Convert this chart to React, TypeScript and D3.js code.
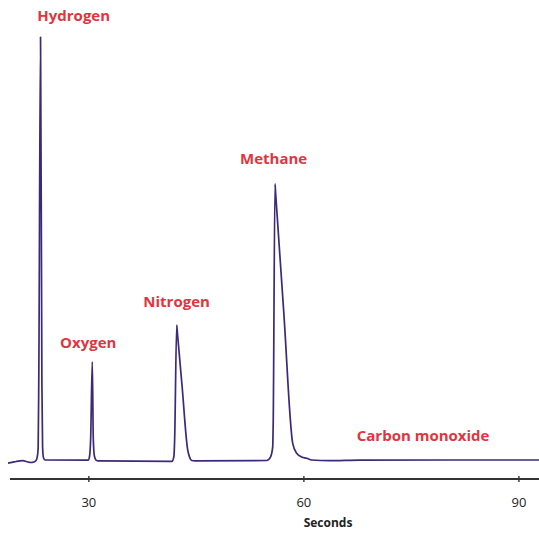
import React from "react";
import * as d3 from "d3";

// Chromatogram trace: retention time (s) and detector signal (arbitrary units, H2 peak = 100)
const times = [
  18.72, 19.3, 19.84, 20.4, 20.81, 21.37, 21.93, 22.35, 22.63, 22.8, 22.93, 23.02, 23.26, 23.45, 23.55, 23.68, 23.9,
  29.9, 30.1, 30.25, 30.48, 30.62, 30.78, 31.0, 31.3,
  41.6, 41.87, 41.97, 42.26, 42.33, 43.0, 43.79, 44.05, 44.35, 44.8,
  54.81, 55.34, 55.65, 55.72, 55.97, 56.05, 57.2, 58.44, 59.0, 59.69, 60.39, 61.09, 63.6, 67.8, 92.8,
];
const signal = [
  -0.6, -0.45, -0.24, -0.08, -0.05, -0.3, -0.47, -0.35, 0.0, 0.8, 3, 20, 100, 18, 3, 0.6, 0.12,
  0.1, 1, 5, 23.3, 5, 1, 0.1, -0.1,
  -0.2, 1, 5, 32, 30.6, 17.7, 2.5, 0.8, 0.0, -0.1,
  0.0, 0.8, 3.2, 9, 65.3, 63.3, 34.8, 4.06, 1.7, 0.83, 0.52, 0.12, -0.05, 0.1, 0.12,
];

const compounds = ["Hydrogen", "Oxygen", "Nitrogen", "Methane", "Carbon monoxide"];
// label anchors in data coordinates (seconds, signal)
const labelTimes = [22.81, 25.98, 37.6, 51.09, 67.37];
const labelSignals = [103.8, 26.5, 36.2, 70.1, 4.7];

const tickValues = [30, 60, 90];
const xAxisTitle = "Seconds";

const W = 539;
const H = 536;

export default function App() {
  const x = d3.scaleLinear().domain([19, 92.8]).range([10, 539]);
  const y = d3.scaleLinear().domain([0, 100]).range([460.5, 37]);
  const axisY = 479;

  const pts: [number, number][] = times.map((t, i) => [t, signal[i]]);
  const line = d3
    .line<[number, number]>()
    .x((d) => x(d[0]))
    .y((d) => y(d[1]))
    .curve(d3.curveMonotoneX);

  const red = "#e0353f";
  const font = "'Open Sans', sans-serif";

  return (
    <svg
      width={W}
      height={H}
      style={{ position: "absolute", left: 0, top: 0, background: "#fff" }}
    >
      <path d={line(pts) || ""} fill="none" stroke="#3b2a78" strokeWidth={1.7} strokeLinejoin="round" />
      <line x1={x.range()[0]} x2={x.range()[1]} y1={axisY} y2={axisY} stroke="#333" strokeWidth={2.2} />
      {tickValues.map((v) => (
        <g key={v}>
          <line x1={x(v)} x2={x(v)} y1={axisY - 3} y2={axisY + 3} stroke="#333" strokeWidth={1.4} />
          <text
            x={x(v)}
            y={axisY + 28}
            textAnchor="middle"
            fontFamily={font}
            fontSize={13}
            fill="#222"
          >
            {v}
          </text>
        </g>
      ))}
      <text x={328} y={527} textAnchor="middle" fontFamily={font} fontSize={12} fontWeight="bold" fill="#222">
        {xAxisTitle}
      </text>
      {compounds.map((c, i) => (
        <text
          key={c}
          x={x(labelTimes[i])}
          y={y(labelSignals[i])}
          fontFamily={font}
          fontSize={15}
          fontWeight="bold"
          fill={red}
        >
          {c}
        </text>
      ))}
    </svg>
  );
}
